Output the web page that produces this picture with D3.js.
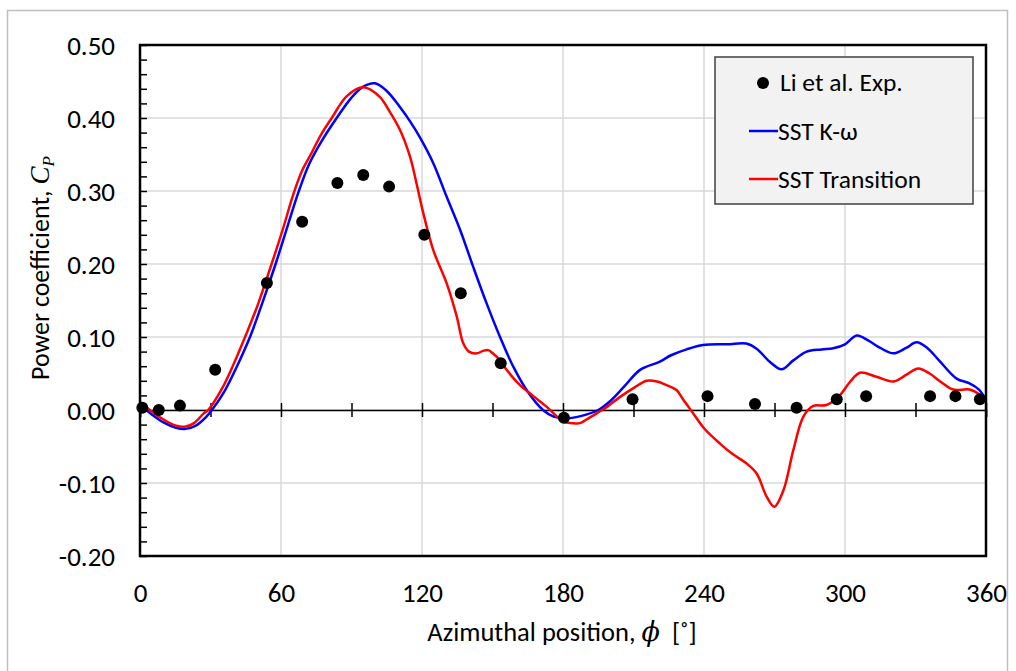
<!DOCTYPE html>
<html>
<head>
<meta charset="utf-8">
<script src="https://cdn.jsdelivr.net/npm/d3@7"></script>
<style>
  html, body { margin: 0; padding: 0; background: #fff; }
  svg { display: block; }
  text { font-family: Carlito, Lato, "Open Sans", sans-serif; fill: #000; }
</style>
</head>
<body>
<svg id="chart" width="1016" height="671"></svg>
<script>
// Li et al. experiment
const expAngle = [1, 8, 17, 32, 54, 69, 84, 95, 106, 121, 136.5, 153.5, 180.4, 209.6, 241.5, 261.7, 279.4, 296.5, 309, 336.2, 347, 357.4];
const expCp = [0.003, 0.0, 0.006, 0.055, 0.174, 0.258, 0.311, 0.322, 0.306, 0.24, 0.16, 0.064, -0.0105, 0.0146, 0.019, 0.0082, 0.0032, 0.0146, 0.019, 0.019, 0.019, 0.0146];

// SST k-omega
const sstAngle = [0, 5, 10, 15, 19, 24, 28, 30.6, 36, 41, 46.8, 52, 57.7, 63, 67.4, 72, 78, 83.7, 90, 95, 100, 105, 110.6, 115, 119, 124.8, 130.5, 136.2, 141.8, 147.5, 153.2, 158.9, 165, 171.5, 176, 181.6, 188, 195, 200, 206, 212.8, 221, 226, 232.6, 239.6, 250, 258, 262.4, 268, 273, 278, 283.7, 290, 295, 300, 305, 310, 315, 320.6, 326, 330.5, 335, 340, 347.5, 353, 357, 360];
const sstCp = [0.007, -0.006, -0.017, -0.024, -0.026, -0.021, -0.01, 0.0, 0.026, 0.058, 0.1, 0.146, 0.2, 0.254, 0.298, 0.337, 0.372, 0.4, 0.428, 0.443, 0.4475, 0.437, 0.415, 0.395, 0.374, 0.338, 0.292, 0.247, 0.196, 0.146, 0.1, 0.059, 0.025, 0.0, -0.009, -0.0114, -0.008, 0.0, 0.012, 0.032, 0.055, 0.066, 0.075, 0.083, 0.089, 0.09, 0.091, 0.084, 0.066, 0.0557, 0.068, 0.08, 0.083, 0.0845, 0.09, 0.102, 0.095, 0.085, 0.0776, 0.085, 0.0927, 0.085, 0.068, 0.043, 0.0365, 0.028, 0.014];

// SST transition
const trAngle = [0, 5, 10, 15, 19, 23, 27, 29, 35, 40, 44.7, 50, 56, 61, 65.2, 69, 73, 77, 81.6, 88, 95, 102, 106, 110.6, 114.9, 117.7, 120.6, 124.8, 130.5, 134.8, 137.6, 140, 143.3, 146, 148.2, 150, 153.2, 156, 161.7, 167, 173, 180.1, 184, 187.2, 190, 194.3, 199, 204.3, 210, 215.6, 220, 224.1, 228.4, 231, 235.5, 240, 246.8, 252, 258, 262.4, 266.7, 269.9, 273.8, 278, 282.3, 286.5, 292, 297.9, 302, 306.4, 313, 320.6, 326, 331.2, 336, 341, 346, 353, 357, 360];
const trCp = [0.011, -0.002, -0.013, -0.021, -0.023, -0.018, -0.005, 0.0, 0.03, 0.064, 0.1, 0.143, 0.2, 0.25, 0.295, 0.328, 0.352, 0.377, 0.4, 0.43, 0.442, 0.429, 0.41, 0.384, 0.347, 0.31, 0.269, 0.219, 0.1735, 0.128, 0.091, 0.08, 0.0776, 0.081, 0.082, 0.078, 0.068, 0.055, 0.034, 0.02, 0.0046, -0.016, -0.018, -0.018, -0.013, -0.0046, 0.005, 0.018, 0.03, 0.04, 0.039, 0.034, 0.027, 0.015, -0.005, -0.025, -0.046, -0.06, -0.073, -0.087, -0.119, -0.1325, -0.11, -0.055, -0.009, 0.0055, 0.0068, 0.0205, 0.038, 0.051, 0.046, 0.039, 0.048, 0.057, 0.05, 0.038, 0.028, 0.028, 0.022, 0.0137];

const xTicks = [0, 60, 120, 180, 240, 300, 360];
const yTicks = [-0.2, -0.1, 0, 0.1, 0.2, 0.3, 0.4, 0.5];
const legendNames = ["Li et al. Exp.", "SST K-\u03c9", "SST Transition"];

const svg = d3.select("#chart");
const plot = { left: 140, top: 45, right: 986, bottom: 556 };

const x = d3.scaleLinear().domain([0, 360]).range([plot.left, plot.right]);
const y = d3.scaleLinear().domain([-0.2, 0.5]).range([plot.bottom, plot.top]);

// outer chart border
svg.append("rect")
    .attr("x", 7.5).attr("y", 10.5)
    .attr("width", 1000).attr("height", 680)
    .attr("fill", "#fff")
    .attr("stroke", "#bfbfbf")
    .attr("stroke-width", 1.5);

// gridlines
const grid = svg.append("g").attr("class", "grid");
grid.selectAll(".vg")
    .data(xTicks.slice(1, -1))
    .join("line")
    .attr("x1", d => x(d)).attr("x2", d => x(d))
    .attr("y1", plot.top).attr("y2", plot.bottom)
    .attr("stroke", "#d9d9d9").attr("stroke-width", 1.5);
grid.selectAll(".hg")
    .data(yTicks.slice(1, -1))
    .join("line")
    .attr("x1", plot.left).attr("x2", plot.right)
    .attr("y1", d => y(d)).attr("y2", d => y(d))
    .attr("stroke", "#d9d9d9").attr("stroke-width", 1.5);

// x axis through zero, with cross ticks every 30 deg
const xAxis = svg.append("g")
    .attr("transform", `translate(0,${y(0)})`)
    .call(d3.axisBottom(x).tickValues(d3.range(0, 361, 30)).tickSize(7).tickFormat(""));
xAxis.select(".domain").attr("stroke", "#000").attr("stroke-width", 1.5);
xAxis.selectAll(".tick line").attr("y1", -7).attr("stroke", "#000").attr("stroke-width", 1.5);

// y axis minor ticks (inward)
const yMinor = svg.append("g")
    .attr("transform", `translate(${plot.left},0)`)
    .call(d3.axisLeft(y).tickValues(d3.range(-10, 26).map(i => i * 0.02)).tickSize(-7).tickFormat(""));
yMinor.select(".domain").remove();
yMinor.selectAll(".tick line").attr("stroke", "#000").attr("stroke-width", 1.5);

// tick labels
const fmt = d => d3.format(".2f")(d).replace("\u2212", "-");
const yLab = svg.append("g")
    .attr("transform", `translate(${plot.left},0)`)
    .call(d3.axisLeft(y).tickValues(yTicks).tickSize(0).tickPadding(25).tickFormat(fmt));
yLab.select(".domain").remove();
yLab.selectAll("text").attr("font-size", 27).attr("font-family", null).attr("dy", "0.34em");

const xLab = svg.append("g")
    .attr("transform", `translate(0,${plot.bottom})`)
    .call(d3.axisBottom(x).tickValues(xTicks).tickSize(0).tickPadding(27).tickFormat(d3.format("d")));
xLab.select(".domain").remove();
xLab.selectAll("text").attr("font-size", 27).attr("font-family", null);

// curves
const line = d3.line()
    .x(d => x(d[0]))
    .y(d => y(d[1]))
    .curve(d3.curveCatmullRom.alpha(0.5));

const sstData = sstAngle.map((a, i) => [a, sstCp[i]]);
const trData = trAngle.map((a, i) => [a, trCp[i]]);
svg.append("clipPath").attr("id", "clip")
    .append("rect")
    .attr("x", plot.left).attr("y", plot.top)
    .attr("width", plot.right - plot.left).attr("height", plot.bottom - plot.top);

svg.append("path")
    .datum(sstData)
    .attr("d", line)
    .attr("clip-path", "url(#clip)")
    .attr("fill", "none").attr("stroke", "#0000ff").attr("stroke-width", 2.5);
svg.append("path")
    .datum(trData)
    .attr("d", line)
    .attr("clip-path", "url(#clip)")
    .attr("fill", "none").attr("stroke", "#ff0000").attr("stroke-width", 2.5);

// experimental points
svg.append("g").selectAll("circle")
    .data(expAngle.map((a, i) => [a, expCp[i]]))
    .join("circle")
    .attr("cx", d => x(d[0]))
    .attr("cy", d => y(d[1]))
    .attr("r", 6)
    .attr("fill", "#000");

// plot frame
svg.append("rect")
    .attr("x", plot.left).attr("y", plot.top)
    .attr("width", plot.right - plot.left).attr("height", plot.bottom - plot.top)
    .attr("fill", "none").attr("stroke", "#000").attr("stroke-width", 2.5);

// legend
const legend = svg.append("g");
legend.append("rect")
    .attr("x", 715).attr("y", 57).attr("width", 258).attr("height", 147)
    .attr("fill", "#f2f2f2").attr("stroke", "#404040").attr("stroke-width", 1.5);
legend.append("circle").attr("cx", 763).attr("cy", 83).attr("r", 6).attr("fill", "#000");
legend.append("line").attr("x1", 749).attr("x2", 778).attr("y1", 131).attr("y2", 131)
    .attr("stroke", "#0000ff").attr("stroke-width", 2.5);
legend.append("line").attr("x1", 749).attr("x2", 778).attr("y1", 179).attr("y2", 179)
    .attr("stroke", "#ff0000").attr("stroke-width", 2.5);
legend.selectAll("text")
    .data(legendNames)
    .join("text")
    .attr("x", (d, i) => i === 0 ? 780 : 778)
    .attr("y", (d, i) => 91 + i * 48.5)
    .attr("font-size", 25.5)
    .text(d => d);

// axis titles
const yTitle = svg.append("text")
    .attr("transform", "translate(49,268) rotate(-90)")
    .attr("text-anchor", "middle")
    .attr("font-size", 26);
yTitle.append("tspan").text("Power coefficient, ");
yTitle.append("tspan").attr("font-family", "'Liberation Serif', serif").attr("font-style", "italic").attr("font-size", 27).text("C");
yTitle.append("tspan").attr("font-family", "'Liberation Serif', serif").attr("font-style", "italic")
    .attr("font-size", 17).attr("dy", 5).text("P");

const xTitle = svg.append("text")
    .attr("x", 562).attr("y", 641)
    .attr("text-anchor", "middle")
    .attr("font-size", 26.5);
xTitle.append("tspan").text("Azimuthal position, ");
xTitle.append("tspan").attr("font-family", "'DejaVu Serif', serif").attr("font-style", "italic").attr("font-size", 27).text("\u03d5");
xTitle.append("tspan").attr("xml:space", "preserve").text("  [\u02da]");
</script>
</body>
</html>
